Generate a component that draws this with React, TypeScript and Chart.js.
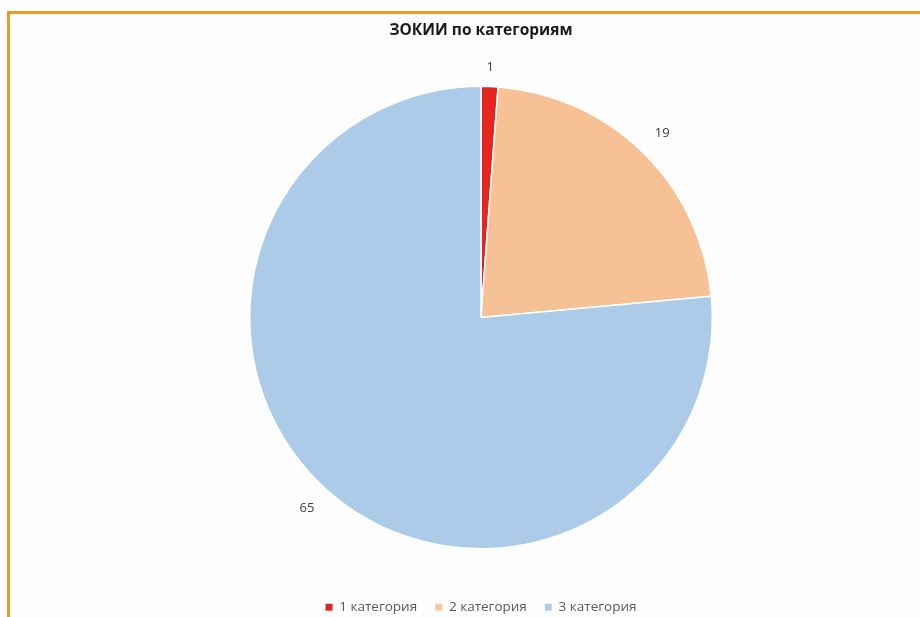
import React, { useEffect, useRef } from "react";
import { Chart, registerables } from "chart.js";

Chart.register(...registerables);

const chartTitle = "ЗОКИИ по категориям";
const categories = ["1 категория", "2 категория", "3 категория"];
const values = [1, 19, 65];
const colors = ["#e5261f", "#f7c196", "#abcbe9"];
const legendColors = ["#d9262b", "#f7c9a3", "#b5cde3"];

const FONT = "'Open Sans', 'Liberation Sans', sans-serif";

const outsideLabels = {
  id: "outsideLabels",
  afterDatasetsDraw(chart: any) {
    const ctx = chart.ctx;
    const meta = chart.getDatasetMeta(0);
    ctx.save();
    ctx.font = `13px ${FONT}`;
    ctx.fillStyle = "#404040";
    ctx.textAlign = "center";
    ctx.textBaseline = "middle";
    meta.data.forEach((arc: any, i: number) => {
      const p = arc.getProps(["x", "y", "startAngle", "endAngle", "outerRadius"], true);
      const mid = (p.startAngle + p.endAngle) / 2;
      const r = p.outerRadius + 19 + 12 * Math.abs(Math.cos(mid));
      ctx.fillText(String(values[i]), p.x + Math.cos(mid) * r, p.y + Math.sin(mid) * r);
    });
    ctx.restore();
  },
};

export default function App() {
  const ref = useRef<HTMLCanvasElement | null>(null);
  useEffect(() => {
    if (!ref.current) return;
    const chart = new Chart(ref.current, {
      type: "pie",
      data: {
        labels: categories,
        datasets: [
          {
            data: values,
            backgroundColor: colors,
            borderColor: "#ffffff",
            borderWidth: 1.5,
          },
        ],
      },
      options: {
        animation: false,
        responsive: false,
        layout: { padding: { left: 239, right: 239, top: 0, bottom: 30 } },
        plugins: {
          title: {
            display: true,
            text: chartTitle,
            color: "#1a1a1a",
            font: { family: FONT, size: 15.5, weight: "bold" },
            padding: { top: 7, bottom: 13 },
          },
          legend: {
            position: "bottom",
            labels: {
              boxWidth: 7,
              boxHeight: 7,
              padding: 18,
              color: "#595959",
              font: { family: FONT, size: 13.5 },
              generateLabels: () =>
                categories.map((c, i) => ({
                  text: c,
                  fillStyle: legendColors[i],
                  strokeStyle: legendColors[i],
                  lineWidth: 0,
                  hidden: false,
                  index: i,
                  fontColor: "#595959",
                })),
            },
          },
          tooltip: { enabled: false },
        },
      },
      plugins: [outsideLabels],
    });
    return () => chart.destroy();
  }, []);

  return (
    <div
      style={{
        position: "fixed",
        left: 7,
        top: 11,
        width: 913,
        height: 606,
        overflow: "hidden",
        borderLeft: "3px solid #eb9b22",
        borderTop: "3px solid #eb9b22",
        background: "#fdfdfd",
      }}
    >
      <canvas ref={ref} width={942} height={640} style={{ display: "block", width: 942, height: 640 }} />
    </div>
  );
}
